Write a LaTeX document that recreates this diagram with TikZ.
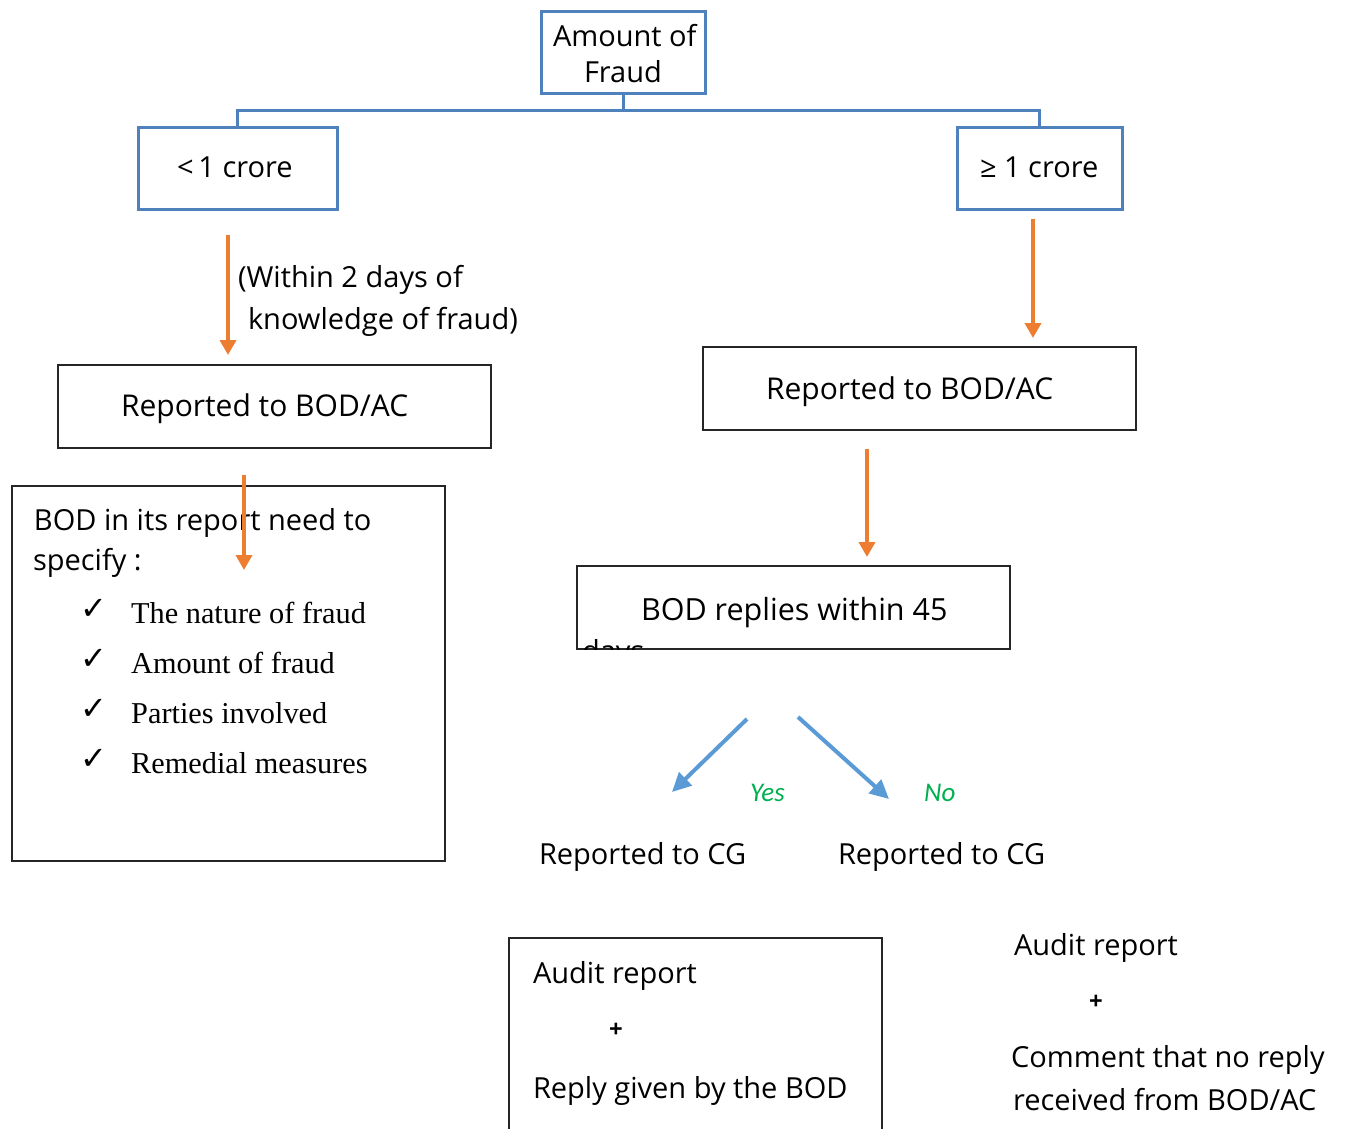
\documentclass[tikz,border=0pt]{standalone}
\usepackage{fontspec}
\setmainfont{Open Sans}
\newfontfamily\listfont{Liberation Serif}
\newfontfamily\symfont{DejaVu Sans}
\newfontfamily\calfont{Carlito}
\usetikzlibrary{arrows.meta,calc}
\definecolor{boxblue}{RGB}{79,129,189}
\definecolor{arrorange}{RGB}{237,125,49}
\definecolor{arrblue}{RGB}{91,155,213}
\definecolor{yesgreen}{RGB}{0,176,80}
\begin{document}
\begin{tikzpicture}[x=1pt,y=-1pt,
  txt/.style={font=\fontsize{29}{36}\selectfont, inner sep=0pt, outer sep=0pt},
  lbl/.style={txt, anchor=base west},
  bluebox/.style={draw=boxblue, line width=3pt, inner sep=0pt},
  blackbox/.style={draw=black!85, line width=1.5pt, inner sep=0pt},
  blueline/.style={draw=boxblue, line width=3pt},
  oarrow/.style={draw=arrorange, line width=3.6pt, -{Triangle[width=16pt,length=15pt]}},
  barrow/.style={draw=arrblue, line width=4pt, -{Triangle[width=18pt,length=19pt]}},
  chk/.style={font=\symfont\fontsize{32}{32}\selectfont, inner sep=0pt, anchor=base west},
  item/.style={font=\listfont\fontsize{30.3}{30}\selectfont, inner sep=0pt, anchor=base west},
  answer/.style={font=\calfont\itshape\fontsize{27}{27}\selectfont, text=yesgreen, inner sep=0pt, anchor=base west}]
\useasboundingbox (0,0) rectangle (1345,1128);
\fill[white] (0,0) rectangle (1345,1128);

% top decision box and its two branches
\node[bluebox, minimum width=164pt, minimum height=82pt] (amt) at (623,52) {};
\node[lbl] (amt1) at (553,46) {Amount of};
\node[lbl] (amt2) at (584,82) {Fraud};
\node[bluebox, minimum width=199pt, minimum height=82pt] (lt) at (237.5,168) {};
\node[lbl] (ltt) at (177,177) {<\,1 crore};
\node[bluebox, minimum width=165pt, minimum height=82pt] (ge) at (1039.5,168) {};
\node[lbl] (get) at (980,177) {≥ 1 crore};
\coordinate (split) at (623,110);
\draw[blueline] (amt.south) -- (split) -| (lt.north);
\draw[blueline] (split) -| (ge.north);

% left branch
\coordinate (la1) at (228,235);
\coordinate (la2) at (228,355);
\draw[oarrow] (la1) -- (la2);
\node[lbl] (within1) at (238,287) {(Within 2 days of};
\node[lbl] (within2) at (248,329) {knowledge of fraud)};
\node[blackbox, minimum width=433pt, minimum height=83pt] (rl) at (274.5,406.5) {};
\node[lbl, font=\fontsize{30}{36}\selectfont] (rlt) at (121,416) {Reported to BOD/AC};

\node[blackbox, minimum width=433pt, minimum height=375pt] (spec) at (228.5,673.5) {};
\node[lbl] (spec1) at (34,530) {BOD in its report need to};
\node[lbl] (spec2) at (33,570) {specify :};
\foreach \t/\yy [count=\i] in {The nature of fraud/623, Amount of fraud/673, Parties involved/723, Remedial measures/773}{
  \node[chk] (c\i) at (80,\yy-4) {✓};
  \node[item] (it\i) at (131,\yy) {\t};
}
\coordinate (lb1) at (244,475);
\coordinate (lb2) at (244,570);
\draw[oarrow] (lb1) -- (lb2);

% right branch
\coordinate (ra1) at (1033,219);
\coordinate (ra2) at (1033,338);
\draw[oarrow] (ra1) -- (ra2);
\node[blackbox, minimum width=433pt, minimum height=83pt] (rr) at (919.5,388.5) {};
\node[lbl, font=\fontsize{30}{36}\selectfont] (rrt) at (766,399) {Reported to BOD/AC};
\coordinate (rb1) at (867,449);
\coordinate (rb2) at (867,557);
\draw[oarrow] (rb1) -- (rb2);
\node[blackbox, minimum width=433pt, minimum height=83pt] (rep) at (793.5,607.5) {};
\node[lbl, font=\fontsize{30.5}{36}\selectfont] (rept) at (641,620) {BOD replies within 45};
\begin{scope}
  \clip (rep.north west) rectangle (rep.south east);
  \node[lbl] (days) at (582,661) {days};
\end{scope}

\coordinate (ya1) at (747,719);
\coordinate (ya2) at (672,792);
\coordinate (na1) at (798,717);
\coordinate (na2) at (889,799);
\draw[barrow] (ya1) -- (ya2);
\draw[barrow] (na1) -- (na2);
\node[answer] (yes) at (750,801) {Yes};
\node[answer] (no) at (924,801) {No};
\node[lbl] (cg1) at (539,864) {Reported to CG};
\node[lbl] (cg2) at (838,864) {Reported to CG};

% outcome with reply
\draw[draw=black!85, line width=1.5pt] (509,1135) -- (509,938) -- (882,938) -- (882,1135);
\node[lbl] (au1) at (533,983) {Audit report};
\node[txt, font=\bfseries\fontsize{24}{24}\selectfont] (pl1) at (616,1030) {+};
\node[lbl] (au2) at (533,1098) {Reply given by the BOD};

% outcome without reply
\node[lbl] (au3) at (1014,955) {Audit report};
\node[txt, font=\bfseries\fontsize{24}{24}\selectfont] (pl2) at (1096,1002) {+};
\node[lbl] (au4) at (1011,1067) {Comment that no reply};
\node[lbl] (au5) at (1013,1110) {received from BOD/AC};
\end{tikzpicture}
\end{document}
